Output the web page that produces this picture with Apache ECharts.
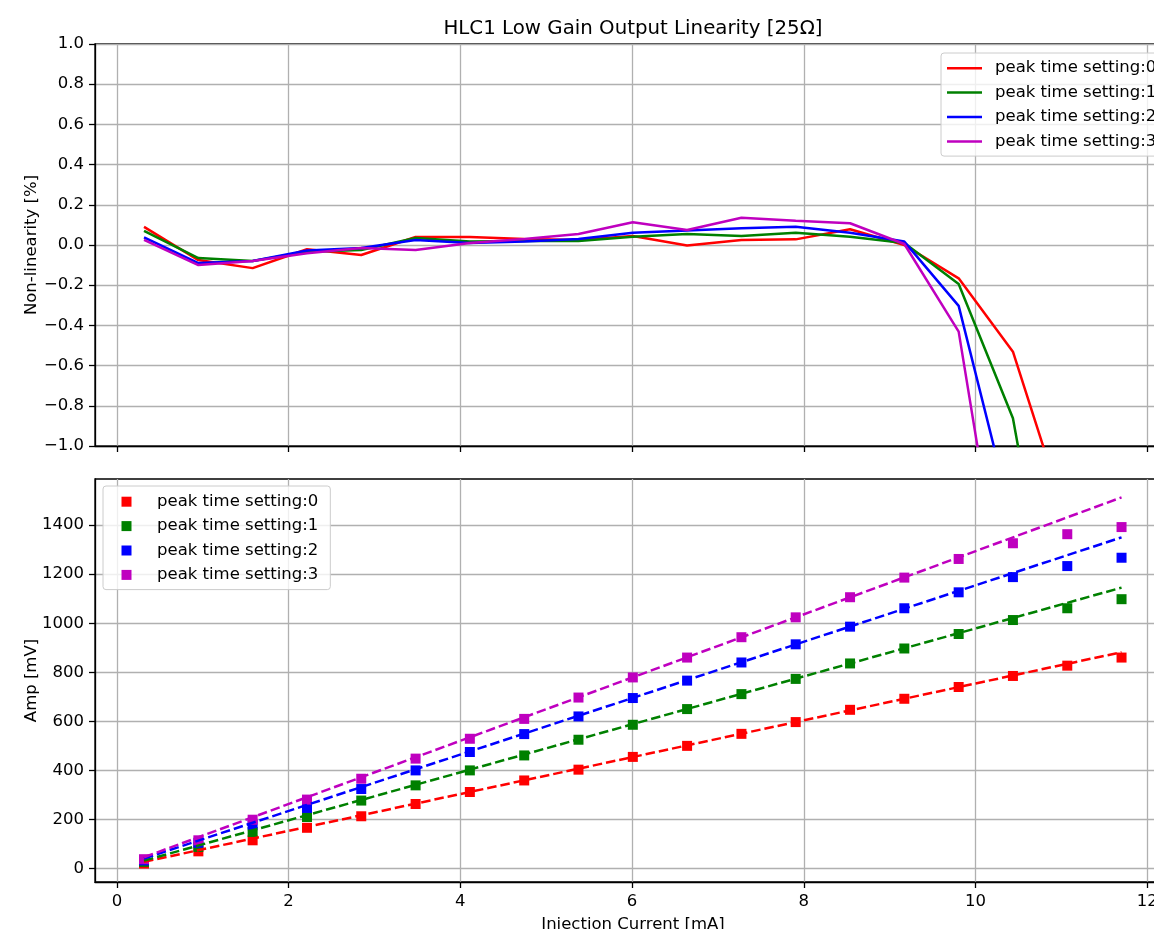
<!DOCTYPE html>
<html><head><meta charset="utf-8">
<script src="https://cdn.jsdelivr.net/npm/echarts@6/dist/echarts.min.js"></script>
<style>html,body{margin:0;padding:0;background:#fff}#c{width:1154px;height:929px}</style>
</head><body><div id="c"></div>
<script>
// ---------- data ----------
const seriesNames = ['peak time setting:0', 'peak time setting:1', 'peak time setting:2', 'peak time setting:3'];
const current = [0.316, 0.949, 1.581, 2.214, 2.846, 3.479, 4.111, 4.744, 5.376, 6.009,
                 6.641, 7.274, 7.906, 8.539, 9.171, 9.804, 10.436, 11.069, 11.701];

// non-linearity [%] (points below -1 run off the plot)
const nonlin0 = [0.090, -0.075, -0.115, -0.021, -0.050, 0.040, 0.040, 0.030, 0.025, 0.045,
                 -0.003, 0.025, 0.028, 0.078, 0.000, -0.166, -0.531, -1.375];
const nonlin1 = [0.070, -0.065, -0.080, -0.033, -0.025, 0.035, 0.017, 0.020, 0.020, 0.041,
                 0.055, 0.045, 0.061, 0.041, 0.010, -0.194, -0.862, -2.350];
const nonlin2 = [0.038, -0.090, -0.080, -0.027, -0.015, 0.025, 0.010, 0.017, 0.030, 0.061,
                 0.072, 0.083, 0.091, 0.061, 0.017, -0.303, -1.380];
const nonlin3 = [0.025, -0.100, -0.080, -0.041, -0.015, -0.025, 0.010, 0.030, 0.055, 0.113,
                 0.075, 0.136, 0.121, 0.108, 0.005, -0.431, -2.080];

// amplitude [mV]
const amp0 = [20, 70, 115, 166, 213, 263, 312, 359, 403, 455, 500, 549, 597, 647, 692, 740, 785, 827, 860];
const amp1 = [27, 88, 149, 210, 277, 339, 400, 461, 525, 586, 650, 711, 773, 836, 897, 956, 1013, 1061, 1098];
const amp2 = [33, 105, 179, 247, 324, 400, 475, 548, 620, 695, 766, 840, 914, 986, 1061, 1126, 1188, 1233, 1267];
const amp3 = [38, 115, 199, 281, 366, 448, 529, 610, 697, 779, 860, 943, 1024, 1106, 1186, 1262, 1326, 1363, 1392];

// linear fit lines (end points)
const fitX = [0.316, 11.701];
const fit0 = [27, 882];
const fit1 = [32, 1145];
const fit2 = [41, 1350];
const fit3 = [46, 1513];

// ticks
const xTicks = [0, 2, 4, 6, 8, 10, 12];
const xTickLabels = ['0', '2', '4', '6', '8', '10', '12'];
const nlTicks = [-1.0, -0.8, -0.6, -0.4, -0.2, 0.0, 0.2, 0.4, 0.6, 0.8, 1.0];
const nlTickLabels = ['\u22121.0', '\u22120.8', '\u22120.6', '\u22120.4', '\u22120.2', '0.0', '0.2', '0.4', '0.6', '0.8', '1.0'];
const ampTicks = [0, 200, 400, 600, 800, 1000, 1200, 1400];
const ampTickLabels = ['0', '200', '400', '600', '800', '1000', '1200', '1400'];

// ---------- style ----------
const colors = ['#ff0000', '#008000', '#0000ff', '#bf00bf'];
const FONT = 'DejaVu Sans';
const FS = 16.5;
const GRID_C = '#b0b0b0';

const nonlin = [nonlin0, nonlin1, nonlin2, nonlin3];
const amps = [amp0, amp1, amp2, amp3];
const fits = [fit0, fit1, fit2, fit3];

function lookup(ticks, labels) {
  return function (v) {
    for (let i = 0; i < ticks.length; i++) if (Math.abs(ticks[i] - v) < 1e-6) return labels[i];
    return '';
  };
}

const X_MIN = -0.255, X_MAX = 12.277;

function xAxis(gridIndex, showLabels, name) {
  return {
    type: 'value', gridIndex, min: X_MIN, max: X_MAX,
    axisLine: { show: true, onZero: false, lineStyle: { color: '#000', width: 1.3 } },
    axisTick: { show: true, length: 6, lineStyle: { color: '#000', width: 1.3 }, customValues: xTicks },
    axisLabel: { show: showLabels, customValues: xTicks, formatter: lookup(xTicks, xTickLabels),
                 margin: 11, color: '#000', fontFamily: FONT, fontSize: FS },
    splitLine: { show: true, lineStyle: { color: GRID_C, width: 1.3 } },
    name: name || '', nameLocation: 'middle', nameGap: 34,
    nameTextStyle: { color: '#000', fontFamily: FONT, fontSize: FS }
  };
}

function yAxis(gridIndex, min, max, ticks, labels, name) {
  return {
    type: 'value', gridIndex, min, max,
    axisLine: { show: true, onZero: false, lineStyle: { color: '#000', width: 1.3 } },
    axisTick: { show: true, length: 6, lineStyle: { color: '#000', width: 1.3 }, customValues: ticks },
    axisLabel: { show: true, customValues: ticks, formatter: lookup(ticks, labels),
                 margin: 11, color: '#000', fontFamily: FONT, fontSize: FS },
    splitLine: { show: true, lineStyle: { color: GRID_C, width: 1.3 } },
    name, nameLocation: 'middle', nameGap: 55, nameRotate: 90, nameMoveOverlap: false,
    nameTextStyle: { color: '#000', fontFamily: FONT, fontSize: FS }
  };
}

const series = [];
for (let s = 0; s < 4; s++) {
  series.push({
    name: seriesNames[s], type: 'line', xAxisIndex: 0, yAxisIndex: 0,
    data: nonlin[s].map((v, i) => [current[i], v]),
    symbol: 'none', clip: true, silent: true,
    lineStyle: { color: colors[s], width: 2.5 }, itemStyle: { color: colors[s] }
  });
}
for (let s = 0; s < 4; s++) {
  series.push({
    name: seriesNames[s], type: 'scatter', xAxisIndex: 1, yAxisIndex: 1,
    data: amps[s].map((v, i) => [current[i], v]),
    symbol: 'rect', symbolSize: 10, silent: true,
    itemStyle: { color: colors[s], opacity: 1 }
  });
  series.push({
    name: 'fit ' + s, type: 'line', xAxisIndex: 1, yAxisIndex: 1,
    data: fits[s].map((v, i) => [fitX[i], v]),
    symbol: 'none', silent: true,
    lineStyle: { color: colors[s], width: 2.5, type: [9.5, 4] }, itemStyle: { color: colors[s] }
  });
}

function legend(left, top, iconSpec, iconH, pad) {
  return {
    orient: 'vertical', left, top,
    padding: pad, itemGap: 0, itemWidth: 35, itemHeight: iconH,
    icon: iconSpec,
    backgroundColor: 'rgba(255,255,255,0.8)', borderColor: '#cccccc', borderWidth: 1, borderRadius: 3,
    textStyle: { fontFamily: FONT, fontSize: FS, color: '#000', lineHeight: 24.4, padding: [0, 0, 0, 8] },
    data: seriesNames.map((n, i) => ({ name: n, itemStyle: { color: colors[i], borderWidth: 0, opacity: 1 } }))
  };
}

const option = {
  animation: false,
  backgroundColor: '#ffffff',
  title: {
    text: 'HLC1 Low Gain Output Linearity [25\u03A9]',
    left: 633, top: 19, padding: 0, textAlign: 'center',
    textStyle: { fontFamily: FONT, fontSize: 19.8, fontWeight: 'normal', color: '#000' }
  },
  grid: [
    { left: 95, top: 44, height: 402, width: 1076, outerBoundsMode: 'none', containLabel: false,
      show: true, borderColor: '#000', borderWidth: 1.3 },
    { left: 95, top: 479, height: 403, width: 1076, outerBoundsMode: 'none', containLabel: false,
      show: true, borderColor: '#000', borderWidth: 1.3 }
  ],
  xAxis: [xAxis(0, false), xAxis(1, true, 'Injection Current [mA]')],
  yAxis: [
    yAxis(0, -1, 1, nlTicks, nlTickLabels, 'Non-linearity [%]'),
    yAxis(1, -55, 1588, ampTicks, ampTickLabels, 'Amp [mV]')
  ],
  legend: [
    legend(941, 53, 'rect', 2.5, [3, 12, 2.5, 6]),
    legend(103, 486, 'path://M0,5M35,5M12.5,0L22.5,0L22.5,10L12.5,10Z', 10, [3.5, 12, 2.5, 6])
  ],
  series
};

const chart = echarts.init(document.getElementById('c'), null, { renderer: 'canvas' });
chart.setOption(option);
</script>
</body></html>
